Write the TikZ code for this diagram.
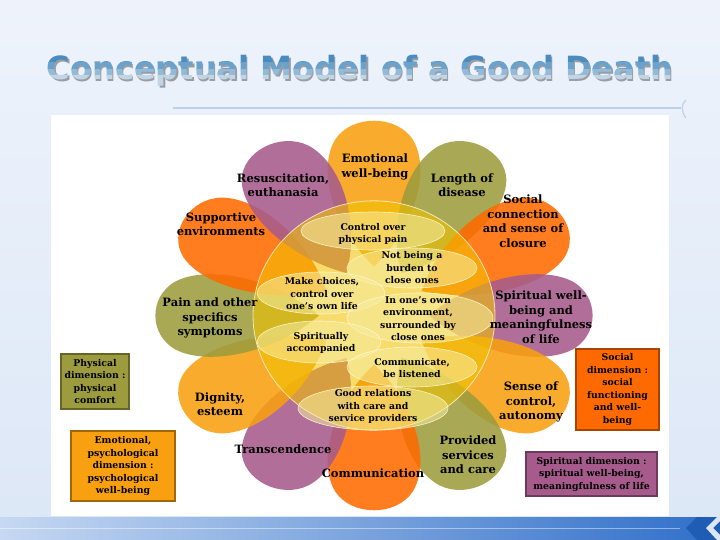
\documentclass[tikz,border=0pt]{standalone}
\usepackage{fontspec}
\newfontfamily\titlefont{DejaVu Sans}
\newfontfamily\lblfont{DejaVu Serif}
\definecolor{cOr}{HTML}{F8A010}
\definecolor{cOl}{HTML}{9C9C3E}
\definecolor{cRd}{HTML}{FF6A00}
\definecolor{cPu}{HTML}{A65B8C}
\definecolor{cYe}{HTML}{F2C200}
\definecolor{cIn}{HTML}{F6EDA0}
\definecolor{cInB}{HTML}{FFF8D0}
\definecolor{bgTop}{HTML}{EEF3FB}
\definecolor{bgBot}{HTML}{DCE7F7}
\definecolor{tA}{HTML}{4A8CC0}
\definecolor{tB}{HTML}{6AA2CC}
\definecolor{tC}{HTML}{93BBD8}
\definecolor{tD}{HTML}{C2D5E5}
\definecolor{tSh}{HTML}{9A9EA4}
\definecolor{lineBl}{HTML}{BCD0EA}
\definecolor{bandL}{HTML}{C6D8F2}
\definecolor{bandR}{HTML}{2F6FC9}
\definecolor{chev}{HTML}{1F5CB4}
\tikzset{
 petal/.style={fill=#1, fill opacity=0.88},
 circ/.style={fill=cYe, fill opacity=0.58, draw=cInB, draw opacity=0.8, line width=0.8pt},
 inner/.style={fill=cIn, fill opacity=0.55, draw=cInB, draw opacity=0.9, line width=0.6pt},
 plabel/.style={font=\lblfont\bfseries\fontsize{11.5}{14.5}\selectfont, align=center, text=black, inner sep=0pt},
 ilabel/.style={font=\lblfont\bfseries\fontsize{9.3}{12.5}\selectfont, align=center, text=black, inner sep=0pt},
 legtext/.style={font=\lblfont\bfseries\fontsize{9.3}{12.5}\selectfont, align=center, text=black, inner sep=0pt},
 lbox/.style={fill=#1, draw=#1!65!black, line width=1.2pt},
 titletext/.style={font=\titlefont\bfseries\fontsize{32}{38}\selectfont, anchor=base, inner sep=0pt}
}
\begin{document}
\begin{tikzpicture}[x=1pt,y=-1pt]
\useasboundingbox (0,0) rectangle (720,540);
% background
\shade[top color=bgTop, bottom color=bgBot] (0,0) rectangle (720,540);
\fill[white] (51,115) rectangle (669,516);
% bottom band
\shade[left color=bandL, right color=bandR] (0,517) rectangle (720,540);
\draw[white, opacity=0.45, line width=1pt] (0,528) -- (680,528);
\fill[chev] (686,528) -- (697,517) -- (720,517) -- (720,540) -- (697,540) -- cycle;
\fill[white, opacity=0.85] (706,528) -- (717,517) -- (720,517) -- (720,521) -- (713,528) -- (720,535) -- (720,540) -- (717,540) -- cycle;
% title line
\draw[lineBl, line width=2.5pt] (173,108) -- (681,108);
\draw[lineBl, line width=1.2pt] (686,100) .. controls (681,104) and (681,112) .. (686,118);
% title
\node[titletext, text=tSh] (titlesh) at (361.5,81.5) {Conceptual Model of a Good Death};
\begin{scope}
 \clip (0,0) rectangle (720,63);
 \node[titletext, text=tA] (t1) at (360,80) {Conceptual Model of a Good Death};
\end{scope}
\begin{scope}
 \clip (0,63) rectangle (720,70);
 \node[titletext, text=tB] (t2) at (360,80) {Conceptual Model of a Good Death};
\end{scope}
\begin{scope}
 \clip (0,70) rectangle (720,76);
 \node[titletext, text=tC] (t3) at (360,80) {Conceptual Model of a Good Death};
\end{scope}
\begin{scope}
 \clip (0,76) rectangle (720,100);
 \node[titletext, text=tD] (t4) at (360,80) {Conceptual Model of a Good Death};
\end{scope}
% petals
\begin{scope}[shift={(374,315.5)}, xscale=1.1, yscale=0.98]
 \foreach \a/\c in {90/cOr, 60/cOl, 30/cRd, 0/cPu, -30/cOr, -60/cOl, -90/cRd, -120/cPu, -150/cOr, 180/cOl, 150/cRd, 120/cPu} {
  \fill[petal=\c, rotate=\a] (50,0) .. controls (90,38) and (150,52) .. (180,35) .. controls (205,20) and (205,-20) .. (180,-35) .. controls (150,-52) and (90,-38) .. (50,0) -- cycle;
 }
 \path[circ] (0,0) ellipse (110 and 117);
\end{scope}
% inner ellipses
\path[inner] (373,231) ellipse (72 and 19);
\path[inner] (412,268) ellipse (65 and 20);
\path[inner] (321,293) ellipse (64 and 21);
\path[inner] (420,318) ellipse (73 and 25);
\path[inner] (319,342) ellipse (62 and 21);
\path[inner] (412,367) ellipse (65 and 20);
\path[inner] (373,408) ellipse (75 and 22);
% inner labels
\node[ilabel] (i1) at (373,234) {Control over\\physical pain};
\node[ilabel] (i2) at (412,268) {Not being a\\burden to\\close ones};
\node[ilabel] (i3) at (322,294) {Make choices,\\control over\\one’s own life};
\node[ilabel] (i4) at (418,318.5) {In one’s own\\environment,\\surrounded by\\close ones};
\node[ilabel] (i5) at (321,343) {Spiritually\\accompanied};
\node[ilabel] (i6) at (412,368) {Communicate,\\be listened};
\node[ilabel] (i7) at (373,406.5) {Good relations\\with care and\\service providers};
% petal labels
\node[plabel] (p1) at (375,167) {Emotional\\well-being};
\node[plabel] (p2) at (462,185) {Length of\\disease};
\node[plabel] (p3) at (523,221) {Social\\connection\\and sense of\\closure};
\node[plabel] (p4) at (541,317) {Spiritual well-\\being and\\meaningfulness\\of life};
\node[plabel] (p5) at (531,402) {Sense of\\control,\\autonomy};
\node[plabel] (p6) at (468,455) {Provided\\services\\and care};
\node[plabel] (p7) at (373,473) {Communication};
\node[plabel] (p8) at (283,449) {Transcendence};
\node[plabel] (p9) at (220,404) {Dignity,\\esteem};
\node[plabel] (p10) at (210,318) {Pain and other\\specifics\\symptoms};
\node[plabel] (p11) at (221,224) {Supportive\\environments};
\node[plabel] (p12) at (283,185) {Resuscitation,\\euthanasia};
% legend boxes
\path[lbox=cOl] (61,354) rectangle (129,409);
\node[legtext] (l1) at (95,381.5) {Physical\\dimension :\\physical\\comfort};
\path[lbox=cOr] (71,431) rectangle (175,501);
\node[legtext] (l2) at (123,466) {Emotional,\\psychological\\dimension :\\psychological\\well-being};
\path[lbox=cRd] (576,349) rectangle (659,430);
\node[legtext] (l3) at (617.5,389.5) {Social\\dimension :\\social\\functioning\\and well-\\being};
\path[lbox=cPu] (526,452) rectangle (657,496);
\node[legtext] (l4) at (591.5,474) {Spiritual dimension :\\spiritual well-being,\\meaningfulness of life};
\end{tikzpicture}
\end{document}
